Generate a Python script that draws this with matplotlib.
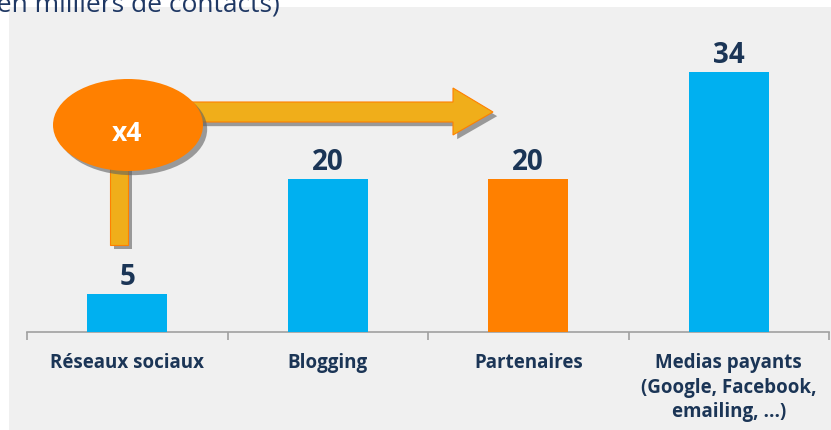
import matplotlib
matplotlib.use("Agg")
import matplotlib.pyplot as plt
from matplotlib.patches import Rectangle, Ellipse, Polygon
import matplotlib.patheffects as pe

categories = ["Réseaux sociaux", "Blogging", "Partenaires",
              "Medias payants\n(Google, Facebook,\nemailing, ...)"]
values = [5, 20, 20, 34]
bar_colors = ["#00b0f0", "#00b0f0", "#ff8000", "#00b0f0"]
title = "(en milliers de contacts)"
badge = "x4"

W, H = 831, 430
fig = plt.figure(figsize=(W / 100, H / 100), dpi=100)
fig.patch.set_facecolor("white")

navy = "#1b3556"
font = ["Open Sans", "DejaVu Sans"]

def fx(px):
    return px / W

def fy(py):
    return 1 - py / H

# gray panel
fig.patches.append(Rectangle((fx(9), 0), 1 - fx(9), fy(7), transform=fig.transFigure,
                             facecolor="#f0f0f0", edgecolor="none", zorder=-5))

ax = fig.add_axes([fx(27), fy(332), fx(829) - fx(27), fy(7) - fy(332)])
ax.set_facecolor("none")
ax.set_zorder(2)
x = list(range(len(categories)))
bars = ax.bar(x, values, width=0.4, color=bar_colors, zorder=3)
ax.set_xlim(-0.5, 3.5)
ax.set_ylim(0, 325 / 7.65)
for s in ["top", "right", "left"]:
    ax.spines[s].set_visible(False)
ax.spines["bottom"].set_color("#a0a0a0")
ax.spines["bottom"].set_linewidth(1.2)
ax.set_yticks([])
ax.set_xticks([-0.5, 0.5, 1.5, 2.5, 3.5])
ax.set_xticklabels([])
ax.tick_params(axis="x", length=6, color="#a0a0a0", width=1.2)

for xi, v in zip(x, values):
    ax.annotate(str(v), (xi, v), xytext=(0, 9), textcoords="offset pixels",
                ha="center", va="baseline", fontsize=20, fontweight="bold",
                color=navy, family=font)

for xi, c in zip(x, categories):
    ax.annotate(c, (xi, 0), xytext=(0, -21), textcoords="offset pixels",
                ha="center", va="top", fontsize=13.5, fontweight="bold",
                color=navy, family=font, linespacing=1.3)

# title (cut off at top-left as in the reference)
fig.text(fx(280), fy(12), title, ha="right", va="baseline", fontsize=19,
         color="#1f3864", family=font)

shadow = [pe.SimplePatchShadow(offset=(3, -3), shadow_rgbFace="#606060", alpha=0.6), pe.Normal()]
gold = "#f0ae1a"
edge = "#ff8000"

ov = fig.add_axes([0, 0, 1, 1], zorder=10)
ov.set_axis_off()
ov.set_xlim(0, W)
ov.set_ylim(H, 0)

# vertical connector
ov.add_patch(Rectangle((110, 150), 18, 95, facecolor=gold, edgecolor=edge,
                       linewidth=0.8, zorder=5, path_effects=shadow))
# horizontal arrow
pts = [(190, 102), (453, 102), (453, 88), (493, 112), (453, 135), (453, 122), (190, 122)]
ov.add_patch(Polygon(pts, closed=True, facecolor=gold, edgecolor=edge,
                     linewidth=0.8, zorder=5, path_effects=shadow))
# ellipse badge
ov.add_patch(Ellipse((128, 125), 150, 92, facecolor="#ff8000", edgecolor="none",
                     zorder=6, path_effects=shadow))
ov.text(127, 141, badge, ha="center", va="baseline", fontsize=19, fontweight="bold",
        color="white", family=font, zorder=7)

fig.savefig("out.png", dpi=100, facecolor="white")
